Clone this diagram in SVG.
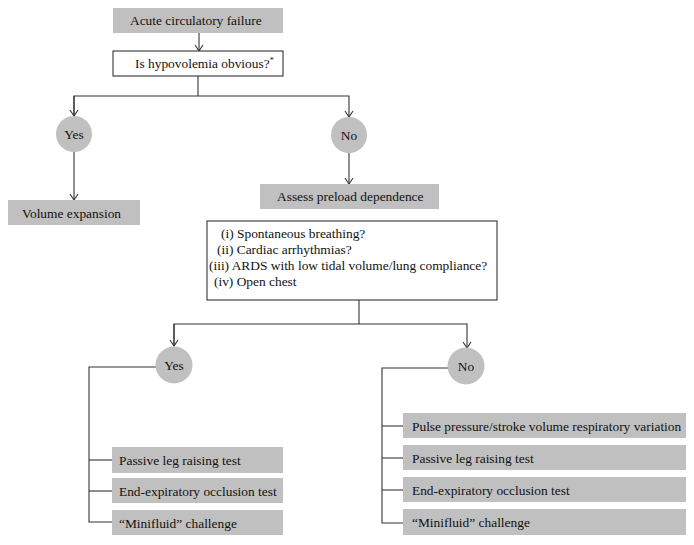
<svg xmlns="http://www.w3.org/2000/svg" width="694" height="545" viewBox="0 0 694 545">
<defs>
<style>
text{font-family:"Liberation Serif","Times New Roman",serif;font-size:13.4px;fill:#111}
.g{fill:#c0c0c0;stroke:none}
.w{fill:#fff;stroke:#333;stroke-width:1.1}
.c{text-anchor:middle}
.ln{fill:none;stroke:#333;stroke-width:1.1}
</style>
<marker id="ar" viewBox="-7 -5 8 10" markerWidth="8" markerHeight="10" refX="0" refY="0" orient="auto" markerUnits="userSpaceOnUse">
<path d="M-6,-4 L0,0 L-6,4" fill="none" stroke="#333" stroke-width="1.1"/>
</marker>
</defs>
<rect width="694" height="545" fill="#fff"/>
<g id="connectors" class="ln">
<line x1="199" y1="33" x2="199" y2="51" marker-end="url(#ar)"/>
<polyline points="198,76 198,96"/>
<polyline points="74,116 74,96 349,96 349,117" marker-end="url(#ar)"/>
<line x1="74" y1="96" x2="74" y2="116" marker-end="url(#ar)"/>
<line x1="74" y1="152" x2="74" y2="200" marker-end="url(#ar)"/>
<line x1="349" y1="153" x2="349" y2="184" marker-end="url(#ar)"/>
<polyline points="359,300 359,324"/>
<polyline points="174,346 174,324 467,324 467,348" marker-end="url(#ar)"/>
<line x1="174" y1="324" x2="174" y2="346" marker-end="url(#ar)"/>
<polyline points="156,367 89,367 89,522 112,522"/>
<line x1="89" y1="460" x2="112" y2="460"/>
<line x1="89" y1="491" x2="112" y2="491"/>
<polyline points="448,368 382,368 382,523 403,523"/>
<line x1="382" y1="426" x2="403" y2="426"/>
<line x1="382" y1="458" x2="403" y2="458"/>
<line x1="382" y1="490" x2="403" y2="490"/>
</g>
<g id="acute">
<rect class="g" x="113" y="8" width="170" height="25"/>
<text x="130" y="25">Acute circulatory failure</text>
</g>
<g id="hypovolemia">
<rect class="w" x="113" y="51" width="170" height="25"/>
<text x="135" y="68">Is hypovolemia obvious?<tspan font-size="8" dy="-5">*</tspan></text>
</g>
<g id="yes1">
<circle class="g" cx="74" cy="134" r="18"/>
<text class="c" x="74" y="139">Yes</text>
</g>
<g id="no1">
<circle class="g" cx="349" cy="135" r="18"/>
<text class="c" x="349" y="140">No</text>
</g>
<g id="volume">
<rect class="g" x="8" y="200" width="132" height="25"/>
<text x="22" y="218">Volume expansion</text>
</g>
<g id="assess">
<rect class="g" x="260" y="184" width="179" height="25"/>
<text x="277" y="201">Assess preload dependence</text>
</g>
<g id="conditions">
<rect class="w" x="207" y="221" width="290" height="79"/>
<text x="221" y="238">(i) Spontaneous breathing?</text>
<text x="217" y="254">(ii) Cardiac arrhythmias?</text>
<text x="209" y="270">(iii) ARDS with low tidal volume/lung compliance?</text>
<text x="214" y="286">(iv) Open chest</text>
</g>
<g id="yes2">
<circle class="g" cx="174" cy="365" r="18.5"/>
<text class="c" x="174" y="370">Yes</text>
</g>
<g id="no2">
<circle class="g" cx="466" cy="366" r="18.5"/>
<text class="c" x="466" y="371">No</text>
</g>
<g id="yes-plr">
<rect class="g" x="112" y="447" width="171" height="26"/>
<text x="119" y="465">Passive leg raising test</text>
</g>
<g id="yes-eeo">
<rect class="g" x="112" y="478" width="171" height="25"/>
<text x="119" y="496">End-expiratory occlusion test</text>
</g>
<g id="yes-mini">
<rect class="g" x="112" y="510" width="171" height="25"/>
<text x="119" y="528">“Minifluid” challenge</text>
</g>
<g id="no-pp">
<rect class="g" x="403" y="413" width="283" height="25"/>
<text x="412" y="431">Pulse pressure/stroke volume respiratory variation</text>
</g>
<g id="no-plr">
<rect class="g" x="403" y="445" width="283" height="25"/>
<text x="412" y="463">Passive leg raising test</text>
</g>
<g id="no-eeo">
<rect class="g" x="403" y="477" width="283" height="25"/>
<text x="412" y="495">End-expiratory occlusion test</text>
</g>
<g id="no-mini">
<rect class="g" x="403" y="509" width="283" height="26"/>
<text x="412" y="527">“Minifluid” challenge</text>
</g>
</svg>
